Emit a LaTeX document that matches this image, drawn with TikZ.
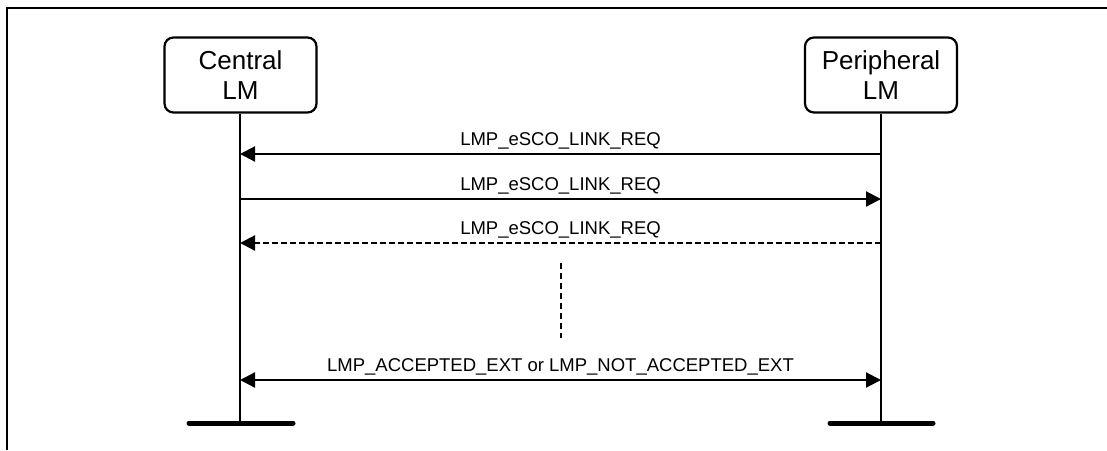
\documentclass[tikz,border=0pt]{standalone}
\usepackage{fontspec}
\setmainfont{Liberation Sans}
\usetikzlibrary{arrows.meta}
\begin{document}
\begin{tikzpicture}[x=1pt,y=-1pt,
  entity/.style={draw,line width=2.2pt,rounded corners=9pt,minimum width=152pt,minimum height=75pt,
    align=center,font=\fontsize{26}{30}\selectfont,inner sep=0pt},
  life/.style={line width=2.2pt},
  endbar/.style={line width=5pt,line cap=round},
  msg/.style={line width=2.2pt,-{Triangle[length=15pt,width=15pt]}},
  msgboth/.style={line width=2.2pt,{Triangle[length=15pt,width=15pt]}-{Triangle[length=15pt,width=15pt]}},
  lbl/.style={font=\fontsize{18.5}{20}\selectfont,inner sep=0pt,anchor=base},
  frameline/.style={line width=2.8pt}]
\useasboundingbox (0,0) rectangle (1107,450);
% frame
\coordinate (f1) at (7,450);
\coordinate (f2) at (7,8);
\coordinate (f3) at (1107,8);
\draw[frameline] (f1) -- (f2) -- (f3);
% entities
\node[entity] (C) at (240.5,75) {Central\\LM};
\node[entity] (P) at (881,75) {Peripheral\\LM};
% lifeline ends
\coordinate (Ce) at (240,423);
\coordinate (Pe) at (881,423);
\coordinate (Cb1) at (189,423);
\coordinate (Cb2) at (293,423);
\coordinate (Pb1) at (830,423);
\coordinate (Pb2) at (933,423);
\draw[life] (C.south -| Ce) -- (Ce);
\draw[life] (P.south -| Pe) -- (Pe);
\draw[endbar] (Cb1) -- (Cb2);
\draw[endbar] (Pb1) -- (Pb2);
% message points
\coordinate (C1) at (240,154); \coordinate (P1) at (881,154);
\coordinate (C2) at (240,199); \coordinate (P2) at (881,199);
\coordinate (C3) at (240,243); \coordinate (P3) at (881,243);
\coordinate (C4) at (240,380); \coordinate (P4) at (881,380);
\draw[msg] (P1) -- node[lbl,yshift=9pt] (L1) {LMP\_eSCO\_LINK\_REQ} (C1);
\draw[msg] (C2) -- node[lbl,yshift=9pt] (L2) {LMP\_eSCO\_LINK\_REQ} (P2);
\draw[msg,dash pattern=on 6pt off 3pt] (P3) -- node[lbl,yshift=9pt] (L3) {LMP\_eSCO\_LINK\_REQ} (C3);
\draw[msgboth] (C4) -- node[lbl,yshift=9pt] (L4) {LMP\_ACCEPTED\_EXT or LMP\_NOT\_ACCEPTED\_EXT} (P4);
% continuation
\coordinate (D1) at (561,263);
\coordinate (D2) at (561,338);
\draw[line width=2.2pt,dash pattern=on 6pt off 4pt] (D1) -- (D2);
\end{tikzpicture}
\end{document}
